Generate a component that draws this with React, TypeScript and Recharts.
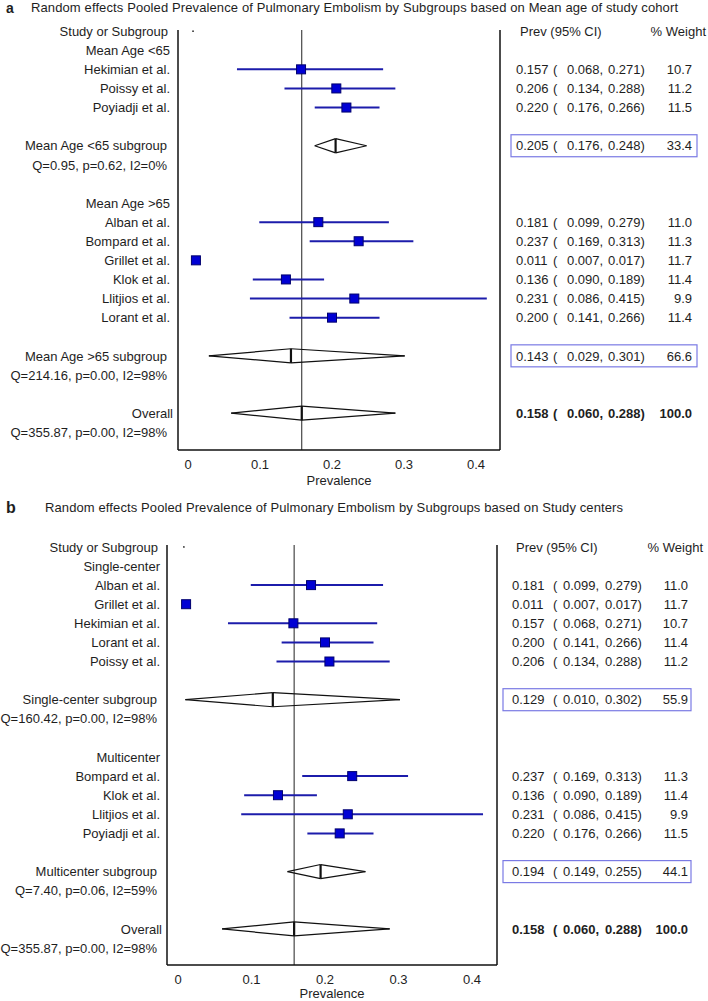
import React from 'react';
import { ScatterChart, Scatter, XAxis, YAxis, ReferenceLine, ReferenceDot, Label } from 'recharts';

const FONT = '"Liberation Sans", Arial, Helvetica, sans-serif';
const TEXT = '#1e1e1e';
const BLUE_LINE = '#1c1cab';
const BLUE_FILL = '#0000d4';
const BLUE_EDGE = '#00006e';
const BOX = '#7a7ae4';

// ---------- shared ----------
const xTicks = [0, 0.1, 0.2, 0.3, 0.4];
const xTickLabels = ['0', '0.1', '0.2', '0.3', '0.4'];
const xAxisTitle = 'Prevalence';
const headerPrev = 'Prev (95% CI)';
const headerWeight = '% Weight';

// ---------- panel a ----------
const letterA = 'a';
const titleA = 'Random effects Pooled Prevalence of Pulmonary Embolism by Subgroups based on Mean age of study cohort';
const labelsA = [
  'Study or Subgroup', 'Mean Age <65', 'Hekimian et al.', 'Poissy et al.', 'Poyiadji et al.', '',
  'Mean Age <65 subgroup', 'Q=0.95, p=0.62, I2=0%', '', 'Mean Age >65', 'Alban et al.', 'Bompard et al.',
  'Grillet et al.', 'Klok et al.', 'Llitjios et al.', 'Lorant et al.', '', 'Mean Age >65 subgroup',
  'Q=214.16, p=0.00, I2=98%', '', 'Overall', 'Q=355.87, p=0.00, I2=98%',
];
const kindsA = [
  'header', 'group', 'study', 'study', 'study', 'blank',
  'subgroup', 'stat', 'blank', 'group', 'study', 'study',
  'study', 'study', 'study', 'study', 'blank', 'subgroup',
  'stat', 'blank', 'overall', 'stat',
];
const estA = [null, null, 0.157, 0.206, 0.220, null, 0.205, null, null, null, 0.181, 0.237, 0.011, 0.136, 0.231, 0.200, null, 0.143, null, null, 0.158, null];
const lowA = [null, null, 0.068, 0.134, 0.176, null, 0.176, null, null, null, 0.099, 0.169, 0.007, 0.090, 0.086, 0.141, null, 0.029, null, null, 0.060, null];
const highA = [null, null, 0.271, 0.288, 0.266, null, 0.248, null, null, null, 0.279, 0.313, 0.017, 0.189, 0.415, 0.266, null, 0.301, null, null, 0.288, null];
const weightA = [null, null, 10.7, 11.2, 11.5, null, 33.4, null, null, null, 11.0, 11.3, 11.7, 11.4, 9.9, 11.4, null, 66.6, null, null, 100.0, null];

// ---------- panel b ----------
const letterB = 'b';
const titleB = 'Random effects Pooled Prevalence of Pulmonary Embolism by Subgroups based on Study centers';
const labelsB = [
  'Study or Subgroup', 'Single-center', 'Alban et al.', 'Grillet et al.', 'Hekimian et al.', 'Lorant et al.',
  'Poissy et al.', '', 'Single-center subgroup', 'Q=160.42, p=0.00, I2=98%', '', 'Multicenter',
  'Bompard et al.', 'Klok et al.', 'Llitjios et al.', 'Poyiadji et al.', '', 'Multicenter subgroup',
  'Q=7.40, p=0.06, I2=59%', '', 'Overall', 'Q=355.87, p=0.00, I2=98%',
];
const kindsB = [
  'header', 'group', 'study', 'study', 'study', 'study',
  'study', 'blank', 'subgroup', 'stat', 'blank', 'group',
  'study', 'study', 'study', 'study', 'blank', 'subgroup',
  'stat', 'blank', 'overall', 'stat',
];
const estB = [null, null, 0.181, 0.011, 0.157, 0.200, 0.206, null, 0.129, null, null, null, 0.237, 0.136, 0.231, 0.220, null, 0.194, null, null, 0.158, null];
const lowB = [null, null, 0.099, 0.007, 0.068, 0.141, 0.134, null, 0.010, null, null, null, 0.169, 0.090, 0.086, 0.176, null, 0.149, null, null, 0.060, null];
const highB = [null, null, 0.279, 0.017, 0.271, 0.266, 0.288, null, 0.302, null, null, null, 0.313, 0.189, 0.415, 0.266, null, 0.255, null, null, 0.288, null];
const weightB = [null, null, 11.0, 11.7, 10.7, 11.4, 11.2, null, 55.9, null, null, null, 11.3, 11.4, 9.9, 11.5, null, 44.1, null, null, 100.0, null];

type Row = {
  row: number; label: string; kind: string;
  est: number | null; low: number | null; high: number | null; weight: number | null;
};

function buildRows(labels: string[], kinds: string[], est: any[], low: any[], high: any[], weight: any[]): Row[] {
  return labels.map((label, i) => ({ row: i, label, kind: kinds[i], est: est[i], low: low[i], high: high[i], weight: weight[i] }));
}

const rowsA = buildRows(labelsA, kindsA, estA, lowA, highA, weightA);
const rowsB = buildRows(labelsB, kindsB, estB, lowB, highB, weightB);

const cfgA = {
  top: 0, height: 490, xAxisHeight: 40, labelOffset: 5,
  leftWidth: 178, rightWidth: 208,
  xDomain: [-0.01389, 0.43333], yDomain: [-0.06, 21.93],
  left: { study: -8, sub: -11, overall: -5, header: -10 },
  right: { est: 16, paren: 53, low: 67, high: 108, weightEnd: 192, boxX: 11, boxW: 186, prev: 20, weightHdrEnd: 206 },
  dotX: 0.007,
};
const cfgB = {
  top: 515, height: 486, xAxisHeight: 36, labelOffset: 3,
  leftWidth: 167, rightWidth: 211,
  xDomain: [-0.01497, 0.43401], yDomain: [-0.1, 21.89],
  left: { study: -7, sub: -10, overall: -5, header: -9 },
  right: { est: 15, paren: 56, low: 66, high: 108, weightEnd: 191, boxX: 6, boxW: 188, prev: 19, weightHdrEnd: 206 },
  dotX: 0.008,
};

const txt = { fontFamily: FONT, fontSize: 13, fill: TEXT } as const;

function LeftTick(props: any) {
  const { x, y, payload, rows, off } = props;
  const r: Row | undefined = rows[payload.value];
  if (!r || !r.label) return <g />;
  let dx = off.study;
  if (r.kind === 'overall') dx = off.overall;
  else if (r.kind === 'subgroup' || r.kind === 'stat') dx = off.sub;
  else if (r.kind === 'header') dx = off.header;
  return (
    <text x={x + dx} y={y} dy="0.36em" textAnchor="end" {...txt}>{r.label}</text>
  );
}

function RightTick(props: any) {
  const { x, y, payload, rows, off } = props;
  const r: Row | undefined = rows[payload.value];
  if (!r) return <g />;
  if (r.kind === 'header') {
    return (
      <g>
        <text x={x + off.prev} y={y} dy="0.36em" {...txt}>{headerPrev}</text>
        <text x={x + off.weightHdrEnd} y={y} dy="0.36em" textAnchor="end" {...txt}>{headerWeight}</text>
      </g>
    );
  }
  if (r.est == null) return <g />;
  const bold = r.kind === 'overall' ? 'bold' : 'normal';
  return (
    <g>
      {r.kind === 'subgroup' && (
        <rect x={x + off.boxX} y={y - 11} width={off.boxW} height={22} fill="none" stroke={BOX} strokeWidth={1.2} />
      )}
      <text x={x + off.est} y={y} dy="0.36em" fontWeight={bold} {...txt}>{r.est.toFixed(3)}</text>
      <text x={x + off.paren} y={y} dy="0.36em" fontWeight={bold} {...txt}>(</text>
      <text x={x + off.low} y={y} dy="0.36em" fontWeight={bold} {...txt}>{(r.low as number).toFixed(3) + ','}</text>
      <text x={x + off.high} y={y} dy="0.36em" fontWeight={bold} {...txt}>{(r.high as number).toFixed(3) + ')'}</text>
      <text x={x + off.weightEnd} y={y} dy="0.36em" textAnchor="end" fontWeight={bold} {...txt}>{(r.weight as number).toFixed(1)}</text>
    </g>
  );
}

function Square(props: any) {
  const { cx, cy } = props;
  const s = 9;
  return <rect x={cx - s / 2} y={cy - s / 2} width={s} height={s} fill={BLUE_FILL} stroke={BLUE_EDGE} strokeWidth={1} />;
}

const H = 0.37; // diamond half height in rows

function Panel({ rows, cfg }: { rows: Row[]; cfg: any }) {
  const studies = rows.filter((r) => r.kind === 'study');
  const pooled = rows.filter((r) => r.kind === 'subgroup' || r.kind === 'overall');
  const overall = rows.find((r) => r.kind === 'overall') as Row;
  const points = studies.map((r) => ({ x: r.est, y: r.row }));
  const rowIdx = rows.map((r) => r.row);
  const axisLine = { stroke: '#111', strokeWidth: 1.5 };
  return (
    <div style={{ position: 'absolute', left: 0, top: cfg.top }}>
      <ScatterChart width={708} height={cfg.height} margin={{ top: 30, right: 0, bottom: 0, left: 0 }}>
        <XAxis
          type="number" dataKey="x" domain={cfg.xDomain} allowDataOverflow ticks={xTicks} interval={0}
          tickFormatter={(v: number) => xTickLabels[xTicks.indexOf(v)] ?? String(v)}
          axisLine={axisLine} tickLine={false} tickSize={0} tickMargin={10} height={cfg.xAxisHeight}
          tick={{ ...txt }}
        >
          <Label value={xAxisTitle} position="insideBottom" offset={cfg.labelOffset} fill={TEXT} fontSize={13} fontFamily={FONT} />
        </XAxis>
        <YAxis
          yAxisId="l" type="number" dataKey="y" domain={cfg.yDomain} allowDataOverflow reversed ticks={rowIdx} interval={0}
          width={cfg.leftWidth} axisLine={axisLine} tickLine={false} tickSize={0} tickMargin={0}
          tick={(p: any) => <LeftTick {...p} rows={rows} off={cfg.left} />}
        />
        <YAxis
          yAxisId="r" orientation="right" type="number" dataKey="y" domain={cfg.yDomain} allowDataOverflow reversed ticks={rowIdx} interval={0}
          width={cfg.rightWidth} axisLine={axisLine} tickLine={false} tickSize={0} tickMargin={0}
          tick={(p: any) => <RightTick {...p} rows={rows} off={cfg.right} />}
        />
        <ReferenceLine yAxisId="l" x={overall.est as number} stroke="#222" strokeWidth={1} ifOverflow="visible" />
        <ReferenceDot yAxisId="l" x={cfg.dotX} y={0} r={0.9} fill="#333" stroke="none" ifOverflow="visible" />
        {studies.map((r) => (
          <ReferenceLine
            key={'ci' + r.row} yAxisId="l" ifOverflow="visible"
            segment={[{ x: r.low as number, y: r.row }, { x: r.high as number, y: r.row }]}
            stroke={BLUE_LINE} strokeWidth={2}
          />
        ))}
        {pooled.map((r) => {
          const lo = r.low as number, hi = r.high as number, e = r.est as number, y = r.row;
          const segs = [
            [{ x: lo, y }, { x: e, y: y - H }],
            [{ x: e, y: y - H }, { x: hi, y }],
            [{ x: hi, y }, { x: e, y: y + H }],
            [{ x: e, y: y + H }, { x: lo, y }],
          ];
          return (
            <React.Fragment key={'d' + r.row}>
              {segs.map((s, j) => (
                <ReferenceLine key={'ds' + r.row + '-' + j} yAxisId="l" ifOverflow="visible" segment={s as any} stroke="#111" strokeWidth={1.2} />
              ))}
              <ReferenceLine yAxisId="l" ifOverflow="visible" segment={[{ x: e, y: y - H }, { x: e, y: y + H }]} stroke="#111" strokeWidth={2.2} />
            </React.Fragment>
          );
        })}
        <Scatter yAxisId="l" data={points} shape={Square} isAnimationActive={false} />
      </ScatterChart>
    </div>
  );
}

export default function App() {
  return (
    <div style={{ position: 'absolute', left: 0, top: 0, width: 708, height: 1001, overflow: 'hidden', background: '#fff' }}>
      <svg width={708} height={1001} style={{ position: 'absolute', left: 0, top: 0 }}>
        <text x={6} y={13} fontFamily={FONT} fontSize={14} fontWeight="bold" fill={TEXT}>{letterA}</text>
        <text x={31} y={12} textLength={647} lengthAdjust="spacing" {...txt}>{titleA}</text>
        <text x={6} y={513} fontFamily={FONT} fontSize={16} fontWeight="bold" fill={TEXT}>{letterB}</text>
        <text x={45} y={512} textLength={578} lengthAdjust="spacing" {...txt}>{titleB}</text>
      </svg>
      <Panel rows={rowsA} cfg={cfgA} />
      <Panel rows={rowsB} cfg={cfgB} />
    </div>
  );
}
